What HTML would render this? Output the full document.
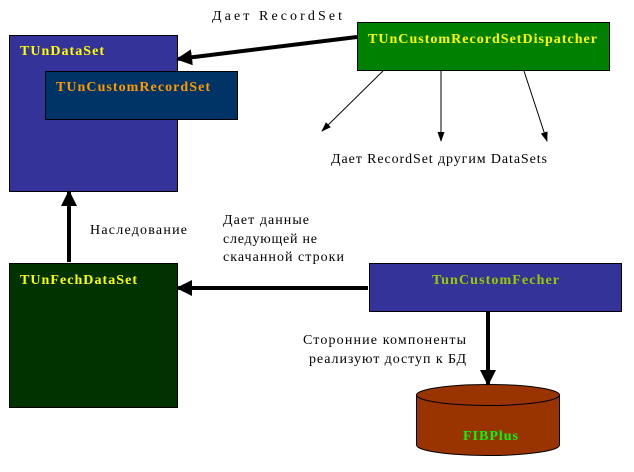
<!DOCTYPE html>
<html><head><meta charset="utf-8"><style>
body{margin:0;background:#fff;width:634px;height:467px;overflow:hidden}
svg text{font-family:"Liberation Serif","Noto Serif CJK SC",serif;font-size:14px}
.b{font-weight:bold}
</style></head><body>
<svg width="634" height="467" xmlns="http://www.w3.org/2000/svg">
<defs>
<marker id="a" markerWidth="4" markerHeight="4" refX="3.5" refY="2" orient="auto"><path d="M0,0L4,2L0,4z" fill="#000"/></marker>
<marker id="t" markerWidth="10" markerHeight="10" refX="9" refY="5" orient="auto" markerUnits="userSpaceOnUse"><path d="M0,1.5L10,5L0,8.5z" fill="#000"/></marker>
</defs>
<rect x="9.5" y="35.5" width="168" height="156" fill="#333399" stroke="#000"/>
<rect x="45.5" y="71.5" width="192" height="48" fill="#003366" stroke="#000"/>
<text x="20" y="55" fill="#ffff00" class="b" textLength="84" lengthAdjust="spacing">TUnDataSet</text>
<text x="56" y="91" fill="#ff9900" class="b" textLength="154" lengthAdjust="spacing">TUnCustomRecordSet</text>
<rect x="357.5" y="22.5" width="252" height="48" fill="#008000" stroke="#000"/>
<text x="368" y="43" fill="#ffff00" class="b" textLength="229" lengthAdjust="spacing">TUnCustomRecordSetDispatcher</text>
<rect x="9.5" y="263.5" width="168" height="144" fill="#003300" stroke="#000"/>
<text x="20" y="284" fill="#ffff00" class="b" textLength="117" lengthAdjust="spacing">TUnFechDataSet</text>
<rect x="369.5" y="263.5" width="252" height="48" fill="#333399" stroke="#000"/>
<text x="432" y="284" fill="#99cc00" class="b" textLength="127" lengthAdjust="spacing">TunCustomFecher</text>
<path d="M416.5,395 L416.5,445 A71.5,10.5 0 0 0 559.5,445 L559.5,395" fill="#993300" stroke="#000"/>
<ellipse cx="488" cy="395" rx="71.5" ry="10.5" fill="#993300" stroke="#000"/>
<text x="463" y="440" fill="#00ff00" class="b" textLength="55" lengthAdjust="spacing">FIBPlus</text>
<line x1="357" y1="37" x2="178" y2="59" stroke="#000" stroke-width="4" marker-end="url(#a)"/>
<line x1="69" y1="262" x2="69" y2="192" stroke="#000" stroke-width="4" marker-end="url(#a)"/>
<line x1="368" y1="288" x2="178" y2="288" stroke="#000" stroke-width="4" marker-end="url(#a)"/>
<line x1="488" y1="312" x2="488" y2="384" stroke="#000" stroke-width="4" marker-end="url(#a)"/>
<line x1="383" y1="71" x2="322" y2="131" stroke="#000" marker-end="url(#t)"/>
<line x1="441" y1="71" x2="441" y2="141" stroke="#000" marker-end="url(#t)"/>
<line x1="524" y1="71" x2="547" y2="141" stroke="#000" marker-end="url(#t)"/>
<text x="212" y="20" textLength="130" lengthAdjust="spacing">Дает RecordSet</text>
<text x="331" y="163" textLength="216" lengthAdjust="spacing">Дает RecordSet другим DataSets</text>
<text x="90" y="234" textLength="97" lengthAdjust="spacing">Наследование</text>
<text x="223" y="224" textLength="86" lengthAdjust="spacing">Дает данные</text>
<text x="223" y="243" textLength="94" lengthAdjust="spacing">следующей не</text>
<text x="223" y="261" textLength="121" lengthAdjust="spacing">скачанной строки</text>
<text x="303" y="344" textLength="163" lengthAdjust="spacing">Сторонние компоненты</text>
<text x="309" y="363" textLength="157" lengthAdjust="spacing">реализуют доступ к БД</text>
</svg>
</body></html>
